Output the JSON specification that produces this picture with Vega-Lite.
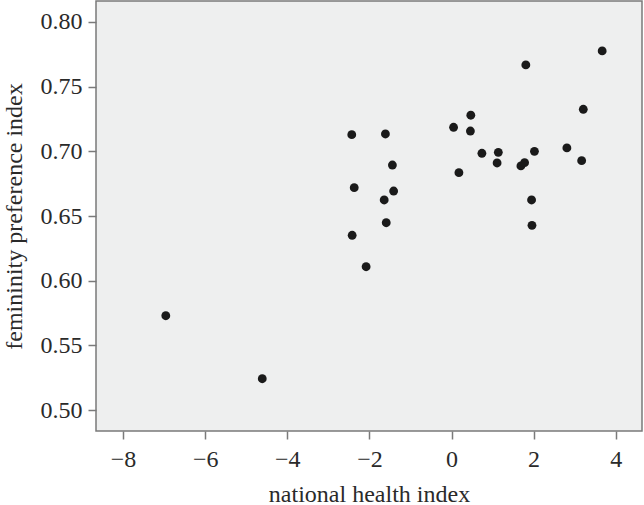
{
  "$schema": "https://vega.github.io/schema/vega-lite/v6.json",
  "width": 546,
  "height": 430,
  "autosize": {"type": "none"},
  "padding": {"left": 96, "top": 1, "right": 2, "bottom": 74},
  "background": "white",
  "config": {
    "view": {"fill": "#eeefef", "stroke": "#7a7a7a", "strokeWidth": 1.5},
    "font": "Times New Roman, Liberation Serif, serif",
    "axis": {
      "grid": false,
      "domain": false,
      "tickColor": "#7a7a7a",
      "tickSize": 8,
      "tickWidth": 1.5,
      "labelFont": "Times New Roman, Liberation Serif, serif",
      "labelFontSize": 24,
      "labelColor": "#2a2a2a",
      "titleFont": "Times New Roman, Liberation Serif, serif",
      "titleFontSize": 24,
      "titleFontWeight": "normal",
      "titleColor": "#2a2a2a"
    }
  },
  "data": {
    "values": [
      {"health": -6.96, "femininity": 0.5729},
      {"health": -4.61, "femininity": 0.5242},
      {"health": -2.43, "femininity": 0.7129},
      {"health": -1.61, "femininity": 0.7134},
      {"health": -1.44, "femininity": 0.6894},
      {"health": -2.37, "femininity": 0.6719},
      {"health": -1.41, "femininity": 0.6693},
      {"health": -1.64, "femininity": 0.6624},
      {"health": -1.59, "femininity": 0.6448},
      {"health": -2.42, "femininity": 0.6351},
      {"health": -2.08, "femininity": 0.6108},
      {"health": 0.05, "femininity": 0.7186},
      {"health": 0.47, "femininity": 0.7279},
      {"health": 0.46, "femininity": 0.7157},
      {"health": 0.18, "femininity": 0.6835},
      {"health": 0.74, "femininity": 0.6985},
      {"health": 1.14, "femininity": 0.6992},
      {"health": 1.11, "femininity": 0.6910},
      {"health": 1.69, "femininity": 0.6887},
      {"health": 1.78, "femininity": 0.6912},
      {"health": 2.02, "femininity": 0.7000},
      {"health": 1.95, "femininity": 0.6624},
      {"health": 1.96, "femininity": 0.6428},
      {"health": 2.81, "femininity": 0.7026},
      {"health": 3.17, "femininity": 0.6928},
      {"health": 3.21, "femininity": 0.7325},
      {"health": 1.81, "femininity": 0.7668},
      {"health": 3.67, "femininity": 0.7776}
    ]
  },
  "mark": {"type": "circle", "size": 78, "color": "#1a1a1a", "opacity": 1},
  "encoding": {
    "x": {
      "field": "health",
      "type": "quantitative",
      "scale": {"domain": [-8.66, 4.64], "nice": false, "zero": false},
      "axis": {
        "title": "national health index",
        "values": [-8, -6, -4, -2, 0, 2, 4],
        "format": "d",
        "labelPadding": 8,
        "titleY": 70,
        "titleBaseline": "alphabetic"
      }
    },
    "y": {
      "field": "femininity",
      "type": "quantitative",
      "scale": {"domain": [0.4838, 0.8162], "nice": false, "zero": false},
      "axis": {
        "title": "femininity preference index",
        "values": [0.5, 0.55, 0.6, 0.65, 0.7, 0.75, 0.8],
        "format": ".2f",
        "labelPadding": 6,
        "titleX": -82,
        "titleY": 215,
        "titleAngle": -90,
        "titleAlign": "center",
        "titleBaseline": "middle"
      }
    }
  }
}
